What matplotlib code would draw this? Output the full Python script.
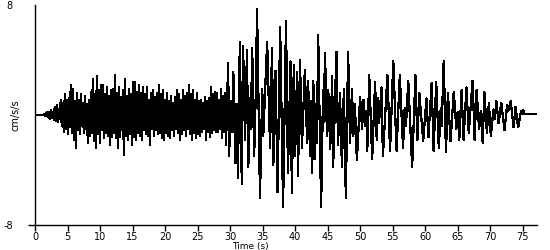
import matplotlib
matplotlib.use("Agg")
import matplotlib.pyplot as plt
import numpy as np

# Dense early part of the record, one sample every ~0.154 s (alternating peaks)
DENSE_T0 = 1.5
DENSE_DT = 0.154
dense_acc = [
    0.1, -0.1, 0.2, -0.15, 0.2, -0.3, 0.35, -0.25, 0.25, -0.35,
    0.6, -0.4, 0.7, -0.5, 0.4, -0.3,
    1.1, -0.8, 0.9, -1.2,
    1.5, -1.0, 1.1, -1.4, 1.2, -0.9,
    2.2, -1.3, 1.9, -1.8, 1.0, -2.4,
    1.6, -1.1, 1.1, -1.4, 1.5, -0.8, 0.9, -1.3,
    1.4, -1.0, 0.8, -2.0, 1.1, -1.5,
    1.7, -1.3, 2.6, -1.9, 1.5, -2.4,
    2.8, -1.4, 1.8, -2.0, 2.2, -1.1,
    2.2, -1.7, 1.5, -1.3,
    2.0, -1.5, 1.4, -2.2, 1.8, -1.6,
    1.9, -1.3, 2.9, -1.7, 1.6, -2.4,
    2.0, -1.6, 1.3, -1.1,
    1.8, -2.9, 2.6, -1.5, 1.4, -1.8,
    1.9, -1.4, 1.5, -2.2, 2.4, -1.6,
    2.4, -1.8, 1.7, -1.3,
    2.2, -1.5, 1.6, -1.8, 2.0, -1.1,
    1.5, -1.4, 2.0, -1.5, 1.1, -2.2, 1.6, -1.0,
    1.8, -1.5, 1.3, -1.1, 1.6, -1.4,
    2.2, -1.3, 1.5, -1.7,
    1.8, -1.8, 1.1, -1.3, 1.6, -1.5, 1.0, -1.7,
    1.4, -1.1, 0.9, -1.5, 1.3, -1.0,
    1.8, -1.3, 1.5, -1.8, 1.1, -1.4,
    1.8, -1.1, 1.4, -1.5, 1.6, -1.0,
    2.2, -1.4, 1.5, -1.8,
    1.8, -1.3, 1.1, -1.7, 1.6, -1.4, 1.0, -1.5,
    1.1, -1.2, 0.9, -1.0,
    1.3, -1.8, 1.0, -1.2, 1.2, -1.6,
    2.0, -1.3, 1.5, -1.1, 1.7, -1.2,
    1.6, -1.2, 1.1, -1.0,
    1.9, -1.7, 1.4, -1.2, 1.6, -2.2,
]

# Later part: individual peaks (time s, cm/s/s)
late_t = [
    29.7, 29.85, 30.1, 30.3, 30.5, 30.8, 31.0, 31.2, 31.5, 31.8,
    32.0, 32.3, 32.6, 32.8, 33.05, 33.2, 33.4, 33.7, 33.95, 34.15,
    34.6, 34.95, 35.1, 35.7, 36.15, 36.45, 36.65, 37.0, 37.3, 37.7,
    38.15, 38.6, 38.9, 39.3, 39.5, 39.8, 40.0, 40.3, 40.45, 40.75,
    41.05, 41.5, 41.85, 42.0, 42.3, 42.45, 42.6, 42.8, 43.0, 43.2,
    43.35, 43.55, 44.0, 44.3, 44.4, 44.6, 44.9, 45.1, 45.4, 45.7,
    45.85, 46.35, 46.6, 46.9, 47.2, 47.5, 47.8, 48.15, 48.45, 48.75,
    48.95, 49.2, 49.5, 50.0, 50.3, 50.5, 50.75, 50.95, 51.1, 51.4,
    51.85, 52.3, 52.55, 52.7, 52.9, 53.3, 53.5, 54.2, 54.6, 55.1,
    55.6, 56.1, 56.6, 56.85, 57.05, 57.4, 58.0, 58.5, 58.8, 59.1,
    59.7, 60.2, 60.5, 61.0, 61.3, 61.7, 62.1, 62.4, 62.55, 62.85,
    63.2, 63.5, 63.9, 64.4, 64.8, 65.0, 65.25, 65.6, 65.9, 66.35,
    66.7, 67.3, 67.6, 67.9, 68.3, 68.55, 68.85, 69.1, 69.5, 69.8,
    70.1, 70.5, 70.7, 70.95, 71.3, 71.7, 72.2, 72.6, 72.8, 73.15,
    73.6, 73.9, 74.3, 74.75, 74.9, 75.05, 75.3, 77.1,
]
late_acc = [
    3.8, -3.0, 1.0, -1.2, 3.1, -3.5, 0.8, -4.6, 5.3, -5.0,
    5.0, -1.8, 4.7, -3.8, 1.2, -1.0, 4.9, -3.0, 1.5, 7.7,
    -6.0, 1.9, -1.5, 5.3, -2.4, 4.9, -3.6, 3.2, -5.6, 6.4,
    -6.7, 6.8, -4.2, 3.9, -5.7, 3.6, -3.0, 3.1, -4.4, 4.0,
    -2.4, 3.3, -2.0, 2.5, -3.0, 1.0, -4.2, 2.5, -3.2, 0.8,
    -2.0, 5.8, -6.7, 1.8, -0.5, 4.5, -1.5, 1.8, -2.5, 2.8,
    -3.8, 4.6, -2.2, 1.6, -3.8, 1.9, -6.0, 4.6, -2.0, 1.9,
    -1.5, 0.8, -3.3, 1.3, -1.0, 1.1, -0.8, 0.3, -2.6, 2.9,
    -3.2, 2.4, -1.8, 1.2, -0.6, 2.0, -3.0, 2.9, -2.6, 3.9,
    -2.6, 2.9, -2.4, 0.5, -0.8, 2.5, -3.8, 2.9, -1.8, 1.6,
    -1.9, 1.2, -1.6, 2.3, -2.6, 2.4, -2.4, 0.5, -0.8, 3.9,
    -2.7, 1.6, -1.9, 1.7, -1.0, 0.2, -1.8, 1.8, -1.8, 2.0,
    -1.3, 2.5, -1.8, 1.8, -1.0, 0.3, -2.0, 1.7, -1.3, 0.9,
    -1.5, 0.4, -0.3, 1.0, -0.6, 0.9, -1.1, 0.7, 0.3, 1.0,
    -0.9, 0.6, -0.9, 0.3, 0.1, 0.35, 0.05, 0.05,
]

YTICKS = [-8, 8]
XTICKS = list(range(0, 80, 5))

dense_t = DENSE_T0 + DENSE_DT * np.arange(len(dense_acc))
time_s = np.concatenate([[0.0, 1.4], dense_t, late_t])
accel = np.concatenate([[0.0, 0.0], dense_acc, late_acc])

plt.rcParams.update({
    "font.family": "DejaVu Sans",
    "font.size": 7,
})

fig = plt.figure(figsize=(5.5, 2.5), dpi=100)
ax = fig.add_axes([35 / 550, 25 / 250, 502 / 550, 220 / 250])

ax.plot(time_s, accel, color="black", linewidth=0.9, antialiased=False)

ax.set_xlim(0, 77.2)
ax.set_ylim(-8, 8)
ax.set_xticks(XTICKS)
ax.set_yticks(YTICKS)
ax.set_yticklabels([str(v) for v in YTICKS])

for side in ("top", "right"):
    ax.spines[side].set_visible(False)
for side in ("left", "bottom"):
    ax.spines[side].set_linewidth(1.0)
    ax.spines[side].set_color("black")

ax.tick_params(axis="x", direction="out", length=4, width=1, pad=1, labelsize=7)
ax.tick_params(axis="y", direction="out", length=5, width=1, pad=11, labelsize=7)
ax.yaxis.get_major_ticks()[1].tick1line.set_visible(False)

fig.text(250 / 550, 1 - 246 / 250, "Time (s)", ha="center", va="center", fontsize=6.5)
fig.text(15 / 550, 1 - 115 / 250, "cm/s/s", ha="center", va="center",
         rotation=90, fontsize=7)

fig.savefig("out.png", dpi=100)
